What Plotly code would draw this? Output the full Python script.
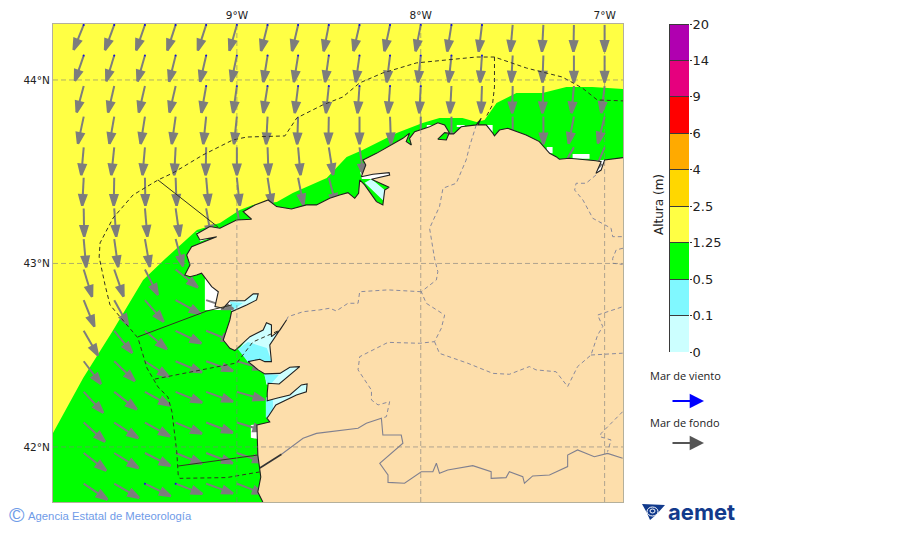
import math
import plotly.graph_objects as go

W, H = 900, 533
PAGE_MARGIN = 8  # the browser keeps its default body margin round the plot
LON_RANGE = [-10.0, -6.9]
LAT_RANGE = [41.70, 44.305]

# colour scale
LEVELS = ["0", "0.1", "0.5", "1.25", "2.5", "4", "6", "9", "14", "20"]
LEVEL_COLORS = ["#ccffff", "#80f8ff", "#00ff00", "#ffff44", "#ffd700",
                "#ffaa00", "#ff0000", "#e6007e", "#b000b0"]

LAND_COLOR = "#fddeab"
ARROW_GREY = "#7d7d7d"

GRID_LONS = [-9, -8, -7]
GRID_LATS = [42, 43, 44]
LON_LABELS = ["9°W", "8°W", "7°W"]
LAT_LABELS = ["42°N", "43°N", "44°N"]

# limit between the 0.5-1.25 and 1.25-2.5 classes, closed under the land
GREEN_LON = [-10.0, -10.0, -9.836, -9.679, -9.510, -9.391, -9.217, -9.092, -8.984, -8.913, -8.783,
             -8.696, -8.511, -8.403, -8.316, -8.131, -7.990, -7.898, -7.773, -7.697, -7.653,
             -7.588, -7.480, -7.338, -7.208, -7.067, -6.900, -6.900]
GREEN_LAT = [41.70, 42.076, 42.376, 42.627, 42.910, 43.024, 43.183, 43.221, 43.292, 43.319, 43.335,
             43.384, 43.466, 43.580, 43.619, 43.711, 43.766, 43.793, 43.793, 43.771, 43.782,
             43.875, 43.929, 43.929, 43.962, 43.962, 43.951, 41.70]

# cells without data near the coast
WHITE_LON = [-9.174, -9.174, -9.027, -9.027, None, -8.924, -8.924, -8.87, -8.87, None,
             -7.967, -7.967, -7.93, -7.93, None, -7.804, -7.804, -7.761, -7.761, None,
             -7.641, -7.641, -7.609, -7.609, None, -7.315, -7.315, -7.283, -7.283, None,
             -7.174, -7.174, -7.082, -7.082, None, -9.22, -9.11, -9.20, None,
             -7.05, -7.0, -7.02, -7.05, None, -8.33, -8.16, -8.17, -8.32]
WHITE_LAT = [42.937, 42.746, 42.746, 42.90, None, 42.12, 42.05, 42.04, 42.125, None,
             43.755, 43.733, 43.733, 43.755, None, 43.755, 43.744, 43.744, 43.755, None,
             43.755, 43.71, 43.71, 43.755, None, 43.635, 43.60, 43.60, 43.635, None,
             43.597, 43.57, 43.57, 43.597, None, 43.17, 43.15, 43.12, None,
             43.56, 43.565, 43.49, 43.49, None, 43.50, 43.50, 43.46, 43.46]

# rias, under the land
PALE_LON = [-8.984, -8.929, -8.837, -8.728, -8.766, -8.804, -8.940, None,
            -8.842, -8.60, -8.60, -8.842, None,
            -8.85, -8.65, -8.65, -8.78, -8.84, None,
            -9.04, -8.88, -8.88, -9.03, None,
            -8.305, -8.196, -8.196, -8.268]
PALE_LAT = [42.539, 42.610, 42.681, 42.703, 42.545, 42.458, 42.463, None,
            42.27, 42.36, 42.29, 42.16, None,
            42.41, 42.45, 42.42, 42.33, 42.34, None,
            42.80, 42.84, 42.77, 42.74, None,
            43.44, 43.335, 43.40, 43.46]
CYAN_LON = [-8.995, -8.940, -8.837, -8.810, -8.940, None,
            -8.842, -8.804, -8.804, -8.83, -8.842, None,
            -8.853, -8.772, -8.81, -8.837, None,
            -9.038, -8.967, -9.02]
CYAN_LAT = [42.534, 42.572, 42.539, 42.463, 42.463, None,
            42.256, 42.256, 42.165, 42.15, 42.16, None,
            42.398, 42.392, 42.349, 42.349, None,
            42.79, 42.785, 42.746]

COAST_LON = [-8.859, -8.886, -8.870, -8.886, -8.891, -8.821, -8.837, -8.830, -8.788, -8.676, -8.622,
             -8.618, -8.649, -8.712, -8.784, -8.835, -8.835, -8.830, -8.770, -8.676, -8.658, -8.712,
             -8.766, -8.848, -8.884, -8.939, -8.875, -8.848, -8.812, -8.821, -8.730, -8.766, -8.812,
             -8.812, -8.839, -8.857, -8.929, -8.984, -9.011, -9.038, -9.074, -9.038, -9.029, -8.947,
             -8.893, -8.884, -8.911, -8.957, -9.038, -9.074, -9.119, -9.101, -9.137, -9.192, -9.219,
             -9.255, -9.283, -9.255, -9.273, -9.246, -9.201, -9.110, -9.201, -9.219, -9.147, -9.092,
             -9.002, -8.920, -8.966, -8.902, -8.830, -8.784, -8.703, -8.622, -8.567, -8.495, -8.441,
             -8.396, -8.359, -8.338, -8.332, -8.305, -8.241, -8.206, -8.196, -8.172, -8.268, -8.169,
             -8.172, -8.260, -8.323, -8.299, -8.314, -8.241, -8.097, -8.061, -8.079, -8.051, -8.061,
             -8.033, -7.952, -7.907, -7.870, -7.843, -7.870, -7.907, -7.861, -7.847, -7.821, -7.780,
             -7.698, -7.671, -7.689, -7.644, -7.608, -7.599, -7.572, -7.527, -7.427, -7.355, -7.299,
             -7.264, -7.246, -7.192, -7.047, -7.019, -7.047, -7.019, -7.000, -6.897]
COAST_LAT = [41.700, 41.755, 41.836, 41.956, 42.120, 42.136, 42.158, 42.165, 42.229, 42.283, 42.301,
             42.343, 42.338, 42.283, 42.265, 42.252, 42.293, 42.347, 42.343, 42.420, 42.438, 42.434,
             42.401, 42.398, 42.420, 42.465, 42.478, 42.465, 42.465, 42.556, 42.692, 42.637, 42.601,
             42.665, 42.677, 42.637, 42.601, 42.547, 42.525, 42.538, 42.583, 42.692, 42.737, 42.774,
             42.801, 42.834, 42.834, 42.797, 42.797, 42.756, 42.765, 42.846, 42.874, 42.947, 42.937,
             42.928, 42.937, 42.992, 43.046, 43.091, 43.110, 43.146, 43.128, 43.161, 43.201, 43.192,
             43.237, 43.241, 43.282, 43.319, 43.346, 43.310, 43.297, 43.319, 43.319, 43.355, 43.373,
             43.386, 43.355, 43.382, 43.455, 43.428, 43.337, 43.319, 43.400, 43.415, 43.459, 43.482,
             43.495, 43.486, 43.473, 43.537, 43.564, 43.600, 43.682, 43.710, 43.664, 43.646, 43.682,
             43.718, 43.745, 43.767, 43.755, 43.710, 43.713, 43.677, 43.673, 43.706, 43.706, 43.745,
             43.755, 43.791, 43.755, 43.755, 43.710, 43.695, 43.727, 43.737, 43.700, 43.664, 43.600,
             43.582, 43.568, 43.573, 43.560, 43.555, 43.491, 43.509, 43.564, 43.577]
LAND_EXTRA_LON = [-6.89, -6.89, -8.859]
LAND_EXTRA_LAT = [43.577, 41.69, 41.69]

# mouth of the Minho, drawn with the coast
MINHO_LON = [-8.875, -8.757]
MINHO_LAT = [41.885, 41.96]

# outer waters limit, dashed
LIMIT_LON = [-8.875, -9.056, -9.310, -9.319, -9.327, -9.353, -9.375, -9.429, -9.489, -9.538, -9.690,
             -9.717, -9.749, -9.744, -9.673, -9.565, -9.429, -9.348, -9.185, -9.022, -8.946, -8.739,
             -8.674, -8.533, -8.424, -8.332, -8.207, -8.023, -7.860, -7.697, -7.599, -7.425, -7.230,
             -7.121, -7.040, -6.900]
LIMIT_LAT = [41.864, 41.833, 41.829, 41.847, 41.974, 42.191, 42.272, 42.327, 42.430, 42.594, 42.774,
             42.883, 43.035, 43.112, 43.248, 43.373, 43.455, 43.493, 43.591, 43.673, 43.689, 43.695,
             43.793, 43.864, 43.907, 43.984, 44.038, 44.093, 44.109, 44.125, 44.125, 44.065, 44.016,
             43.956, 43.891, 43.886]
ZONE_SOLID_LON = [-9.429, -9.103, None, -9.538, -9.163, -9.027, None, -9.32, -8.886]
ZONE_SOLID_LAT = [43.455, 43.199, None, 42.60, 42.741, 42.774, None, 41.896, 41.956]
ZONE_DASH_LON = [-7.599, -7.599, -7.61, -7.644, None, -9.446, -9.0, -8.913, -8.766]
ZONE_DASH_LAT = [44.125, 43.962, 43.864, 43.80, None, 42.37, 42.458, 42.572, 42.637]

BORDER_LON = [-8.757, -8.64, -8.567, -8.441, -8.341, -8.296, -8.214, -8.206, -8.106, -8.097,
              -8.223, -8.178, -8.178, -8.088, -7.997, -7.934, -7.915, -7.898, -7.853, -7.717, -7.617,
              -7.617, -7.536, -7.518, -7.445, -7.436, -7.391, -7.300, -7.201, -7.201, -7.147, -7.056,
              -6.984, -6.902]
BORDER_LAT = [41.96, 42.047, 42.074, 42.09, 42.102, 42.129, 42.156, 42.065, 42.065, 42.020,
              41.911, 41.847, 41.807, 41.802, 41.865, 41.865, 41.911, 41.856, 41.874, 41.898, 41.865,
              41.829, 41.833, 41.865, 41.838, 41.802, 41.842, 41.847, 41.893, 41.956, 41.984, 41.947,
              41.965, 41.938]

PROV_LON = [-7.698, -7.735, -7.753, -7.807, -7.879, -7.898, -7.952, -7.925, -7.907, -7.915, -7.997,
            -7.970, -7.870, -7.888, -7.925, -8.006, -8.178, -8.332, -8.341, -8.268, -8.268, -8.232,
            -8.169, -8.187, -8.214, None,
            -7.997, -8.178, -8.332, -8.341, -8.396, -8.459, -8.495, -8.549, -8.640, -8.721, -8.730, None,
            -7.925, -7.898, -7.744, -7.608, -7.518, -7.409, -7.373, -7.264, -7.201, -7.147, -7.074,
            -7.038, -7.010, -7.038, -6.902, None,
            -7.074, -6.902, None,
            -6.902, -7.019, -7.025, -6.965, -6.984, None,
            -7.047, -7.101, -7.155, -7.163, -7.118, -7.064, -6.965, -6.956, -6.900, None,
            -6.9, -6.937, -6.956, -6.956, -6.902]
PROV_LAT = [43.755, 43.636, 43.564, 43.437, 43.410, 43.310, 43.192, 43.028, 42.955, 42.910, 42.846,
            42.783, 42.719, 42.647, 42.574, 42.565, 42.570, 42.492, 42.420, 42.310, 42.256, 42.229,
            42.247, 42.165, 42.156, None,
            42.846, 42.856, 42.846, 42.783, 42.783, 42.741, 42.756, 42.747, 42.737, 42.710, 42.692, None,
            42.574, 42.510, 42.456, 42.401, 42.396, 42.438, 42.420, 42.410, 42.329, 42.438, 42.501,
            42.610, 42.656, 42.719, 42.764, None,
            42.501, 42.511, None,
            42.192, 42.074, 42.056, 42.038, 41.974, None,
            43.482, 43.437, 43.437, 43.400, 43.346, 43.246, 43.192, 43.146, 43.146, None,
            43.083, 43.074, 43.028, 43.001, 42.995]

# swell arrows: grid nodes, bearing the arrow points to (180 = south), length in degrees
ARROW_LONS = [-9.833, -9.667, -9.5, -9.333, -9.167, -9.0, -8.833, -8.667, -8.5,
              -8.333, -8.167, -8.0, -7.833, -7.667, -7.5, -7.333, -7.167, -7.0]
ARROW_LATS = [44.30, 44.133, 43.967, 43.80, 43.633, 43.467, 43.30, 43.133,
              42.967, 42.80, 42.633, 42.467, 42.30, 42.133, 41.967, 41.80]
ROW_LENGTH = [0.146, 0.146, 0.148, 0.150, 0.152, 0.152, 0.154, 0.154,
              0.155, 0.155, 0.155, 0.155, 0.155, 0.155, 0.155, 0.155]
N = None
BEARING = [
    [202, 200, 199, 198, 198, 196, 194, 193, 191, 193, 192, 191, 189, 187, 185, 183, 181, 180],
    [199, 197, 196, 194, 193, 192, 189, 189, 188, 188, 187, 186, 186, 184, 183, 182, 180, 180],
    [195, 193, 193, 193, 190, 188, 189, 187, 186, 184, 184, 183, 183, 182, 181, 182, 185, 187],
    [192, 190, 189, 188, 186, 186, 183, 182, 181, 180, 178, 180, 180, N, 180, 180, 191, 194],
    [185, 186, 185, 183, 181, 180, 178, 175, 171, 172, N, N, N, N, N, N, 210, 203],
    [183, 181, 179, 178, 175, 174, 171, 169, 165, N, N, N, N, N, N, N, N, N],
    [179, 176, 175, 172, 170, 170, N, N, N, N, N, N, N, N, N, N, N, N],
    [175, 172, 170, 165, N, N, N, N, N, N, N, N, N, N, N, N, N, N],
    [163, 161, 153, 129, N, N, N, N, N, N, N, N, N, N, N, N, N, N],
    [158, 151, 139, 119, 108, N, N, N, N, N, N, N, N, N, N, N, N, N],
    [150, 141, 130, 116, 112, N, N, N, N, N, N, N, N, N, N, N, N, N],
    [143, 134, 123, 113, 110, 106, N, N, N, N, N, N, N, N, N, N, N, N],
    [137, 128, 119, 112, 110, 106, N, N, N, N, N, N, N, N, N, N, N, N],
    [132, 123, 119, 113, 111, 107, N, N, N, N, N, N, N, N, N, N, N, N],
    [128, 122, 117, 112, 111, 109, N, N, N, N, N, N, N, N, N, N, N, N],
    [124, 120, 116, 111, 110, 111, N, N, N, N, N, N, N, N, N, N, N, N],
]
# nodes that also carry a (tiny) wind sea arrow: row -> columns
WIND_SEA_COLS = {0: [0, 1, 2, 3, 4, 5, 6, 7, 8, 9, 10, 11, 12, 13],
                 1: [0, 1, 2, 3, 4, 5, 6, 7, 8, 9, 10, 11, 12, 13],
                 2: [4, 5, 6, 7, 8, 9, 10, 11],
                 15: [2, 3]}


def px_x(px):
    return (px - PAGE_MARGIN) / W


def px_y(py):
    return 1 - (py - PAGE_MARGIN) / H


def area(lon, lat, color):
    return go.Scatter(x=lon, y=lat, mode="lines", fill="toself", fillcolor=color,
                      line=dict(width=0), hoverinfo="skip", showlegend=False)


def path(lon, lat, color, width=1, dash="solid"):
    return go.Scatter(x=lon, y=lat, mode="lines", line=dict(color=color, width=width, dash=dash),
                      hoverinfo="skip", showlegend=False, connectgaps=False)


fig = go.Figure()
fig.add_trace(area(GREEN_LON, GREEN_LAT, LEVEL_COLORS[2]))
fig.add_trace(area(WHITE_LON, WHITE_LAT, "white"))
fig.add_trace(area(PALE_LON, PALE_LAT, LEVEL_COLORS[0]))
fig.add_trace(area(CYAN_LON, CYAN_LAT, LEVEL_COLORS[1]))

# arrows go under the land so they stop at the coast
shaft_x, shaft_y, tip_x, tip_y, tip_angle = [], [], [], [], []
for r, lat in enumerate(ARROW_LATS):
    for c, lon in enumerate(ARROW_LONS):
        b = BEARING[r][c]
        if b is None:
            continue
        x1 = lon + ROW_LENGTH[r] * math.sin(math.radians(b))
        y1 = lat + ROW_LENGTH[r] * math.cos(math.radians(b))
        shaft_x += [lon, x1, None]
        shaft_y += [lat, y1, None]
        tip_x.append(x1)
        tip_y.append(y1)
        tip_angle.append(b)

fig.add_trace(path(shaft_x, shaft_y, ARROW_GREY, width=2))
fig.add_trace(go.Scatter(x=tip_x, y=tip_y, mode="markers", hoverinfo="skip", showlegend=False,
                         marker=dict(symbol="arrow", size=11, angle=tip_angle, color=ARROW_GREY,
                                     line=dict(color=ARROW_GREY, width=2.4))))
wind_x = [ARROW_LONS[c] for r, cols in WIND_SEA_COLS.items() for c in cols]
wind_y = [ARROW_LATS[r] for r, cols in WIND_SEA_COLS.items() for c in cols]
fig.add_trace(go.Scatter(x=wind_x, y=wind_y, mode="markers", hoverinfo="skip", showlegend=False,
                         marker=dict(size=2, color="#1010e0")))

fig.add_trace(area(COAST_LON + LAND_EXTRA_LON, COAST_LAT + LAND_EXTRA_LAT, LAND_COLOR))
fig.add_trace(path(PROV_LON, PROV_LAT, "#8a8a9c", width=1, dash="4px,3px"))
fig.add_trace(path(BORDER_LON, BORDER_LAT, "#80808f", width=1.1))
fig.add_trace(path(COAST_LON, COAST_LAT, "#202020", width=1.1))
fig.add_trace(path(MINHO_LON, MINHO_LAT, "#333333", width=1.6))
fig.add_trace(path(LIMIT_LON, LIMIT_LAT, "#333322", width=1, dash="4px,3px"))
fig.add_trace(path(ZONE_SOLID_LON, ZONE_SOLID_LAT, "#333322", width=1))
fig.add_trace(path(ZONE_DASH_LON, ZONE_DASH_LAT, "#333322", width=1, dash="4px,3px"))

# graticule on top of everything
grid_x, grid_y = [], []
for g in GRID_LONS:
    grid_x += [g, g, None]
    grid_y += [LAT_RANGE[0], LAT_RANGE[1], None]
for g in GRID_LATS:
    grid_x += [LON_RANGE[0], LON_RANGE[1], None]
    grid_y += [g, g, None]
fig.add_trace(path(grid_x, grid_y, "rgba(125,125,125,0.6)", width=1, dash="5px,3px"))

# colour bar
for color in LEVEL_COLORS:
    fig.add_trace(go.Bar(x=[0], y=[1], marker=dict(color=color, line=dict(color="#3a3a3a", width=1)),
                         width=1, xaxis="x2", yaxis="y2", hoverinfo="skip", showlegend=False))

FONT = "DejaVu Sans"
fig.update_layout(
    width=W, height=H, autosize=False, margin=dict(l=0, r=0, t=0, b=0),
    paper_bgcolor="white", plot_bgcolor=LEVEL_COLORS[3], barmode="stack",
    xaxis=dict(domain=[px_x(53), px_x(623)], range=LON_RANGE, side="top", tickvals=GRID_LONS,
               ticktext=LON_LABELS, showgrid=False, zeroline=False, ticks="", ticklen=0,
               tickfont=dict(family=FONT, size=10.5, color="#222222"), automargin=False,
               showline=True, mirror=True, linecolor="#b4b09c", linewidth=1),
    yaxis=dict(domain=[px_y(502), px_y(24)], range=LAT_RANGE, tickvals=GRID_LATS,
               ticktext=LAT_LABELS, showgrid=False, zeroline=False, ticks="", automargin=False,
               tickfont=dict(family=FONT, size=10.5, color="#222222"),
               showline=True, mirror=True, linecolor="#b4b09c", linewidth=1),
    xaxis2=dict(domain=[px_x(669), px_x(689)], range=[-0.5, 0.5], visible=False, anchor="y2",
                automargin=False),
    yaxis2=dict(domain=[px_y(352), px_y(24)], range=[0, 9], anchor="x2", side="right", automargin=False,
                tickvals=list(range(10)), ticktext=LEVELS, showgrid=False, zeroline=False,
                ticks="outside", ticklen=2, tickcolor="#333333", ticklabelstandoff=-2,
                tickfont=dict(family=FONT, size=13, color="#222222")),
)


def note(text, px, py, size, color="#222222", family="Open Sans", anchor="left", angle=0, bold=False):
    fig.add_annotation(text=f"<b>{text}</b>" if bold else text, x=px_x(px), y=px_y(py),
                       xref="paper", yref="paper", xanchor=anchor, yanchor="middle", showarrow=False,
                       textangle=angle, font=dict(family=family, size=size, color=color))


note("Altura (m)", 659, 205, 12, family=FONT, anchor="center", angle=-90)
note("Mar de viento", 648, 375, 11)
note("Mar de fondo", 648, 422, 11)
for py, color in [(401, "#0000ff"), (443, "#555555")]:
    fig.add_annotation(x=px_x(704), y=px_y(py), ax=-33, ay=0, xref="paper", yref="paper",
                       text="", showarrow=True, arrowhead=2, arrowsize=1.3,
                       arrowwidth=2.2, arrowcolor=color)
note("©", 7, 514, 21, color="#6f9be8", family="Liberation Sans")
note("Agencia Estatal de Meteorología", 26, 516, 11.3, color="#6f9be8", family="Liberation Sans")
note("aemet", 666, 512, 22, color="#123a8c", family="Inter", bold=True)

# logo mark, rough
NAVY = "#123a8c"
fig.add_shape(type="path", xref="paper", yref="paper", fillcolor=NAVY, line=dict(width=0),
              path=f"M{px_x(642)},{px_y(504)} L{px_x(665)},{px_y(505)} L{px_x(656)},{px_y(515)} "
                   f"L{px_x(650)},{px_y(520)} L{px_x(647)},{px_y(513)} Z")
fig.add_shape(type="circle", xref="paper", yref="paper", x0=px_x(647), x1=px_x(658), y0=px_y(516), y1=px_y(507),
              line=dict(color="white", width=1), fillcolor="rgba(0,0,0,0)")
fig.add_shape(type="circle", xref="paper", yref="paper", x0=px_x(650), x1=px_x(655), y0=px_y(513), y1=px_y(509),
              line=dict(color="white", width=1), fillcolor="rgba(0,0,0,0)")

fig.write_html("out.html")
